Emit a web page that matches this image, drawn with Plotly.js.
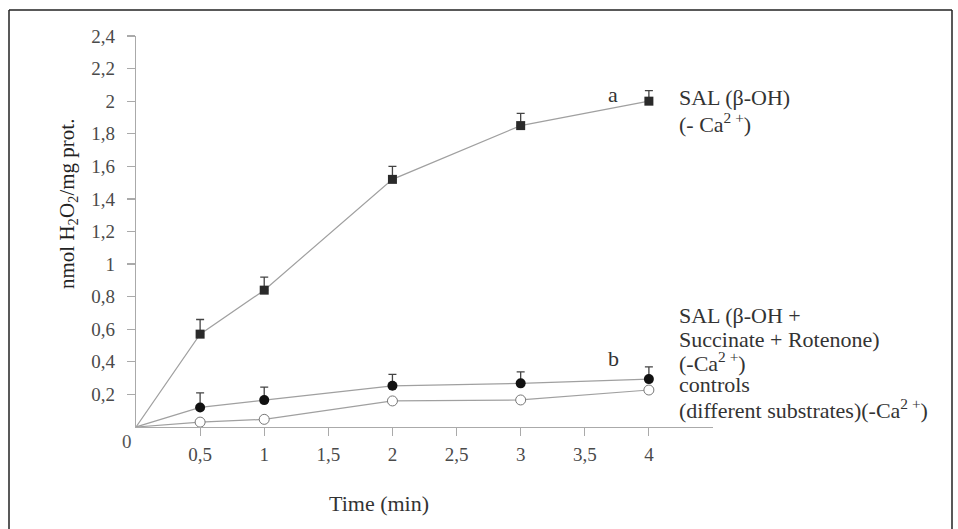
<!DOCTYPE html>
<html><head><meta charset="utf-8">
<script src="https://cdn.plot.ly/plotly-3.0.1.min.js"></script>
<style>html,body{margin:0;padding:0;background:#fff}#chart{width:958px;height:529px}</style>
</head><body><div id="chart"></div>
<script>
// Data (time in min, nmol H2O2 / mg prot.)
const time = [0, 0.5, 1, 2, 3, 4];
const salBetaOH = [0, 0.57, 0.84, 1.52, 1.85, 2.0];
const salBetaOHErr = [0, 0.09, 0.08, 0.08, 0.075, 0.065];
const salSuccRot = [0, 0.12, 0.165, 0.253, 0.268, 0.294];
const salSuccRotErr = [0, 0.09, 0.08, 0.07, 0.07, 0.075];
const controls = [0, 0.03, 0.047, 0.16, 0.166, 0.227];
const xTickVals = [0.5, 1, 1.5, 2, 2.5, 3, 3.5, 4];
const xTickText = ['0,5', '1', '1,5', '2', '2,5', '3', '3,5', '4'];
const yTickVals = [0.2, 0.4, 0.6, 0.8, 1, 1.2, 1.4, 1.6, 1.8, 2, 2.2, 2.4];
const yTickText = ['0,2', '0,4', '0,6', '0,8', '1', '1,2', '1,4', '1,6', '1,8', '2', '2,2', '2,4'];

const FONT = 'Liberation Serif';
const lineCol = '#a0a0a0';
const zeros = time.slice(1).map(() => 0);

function lineTrace(y) {
  return {x: time, y: y, mode: 'lines', line: {color: lineCol, width: 1.2}, hoverinfo: 'skip', showlegend: false, cliponaxis: false};
}
function markTrace(y, err, marker) {
  const t = {x: time.slice(1), y: y.slice(1), mode: 'markers', marker: marker, showlegend: false, cliponaxis: false};
  if (err) {
    t.error_y = {type: 'data', symmetric: false, array: err.slice(1), arrayminus: zeros, color: '#444', thickness: 1.3, width: 4};
  }
  return t;
}

const data = [
  lineTrace(salBetaOH), lineTrace(salSuccRot), lineTrace(controls),
  markTrace(controls, null, {symbol: 'circle', size: 10, color: '#fff', line: {color: '#777', width: 1}}),
  markTrace(salSuccRot, salSuccRotErr, {symbol: 'circle', size: 10, color: '#111', line: {color: '#111', width: 0}}),
  markTrace(salBetaOH, salBetaOHErr, {symbol: 'square', size: 9, color: '#2a2a2a', line: {color: '#2a2a2a', width: 0}})
];

// label placement helpers: layout pixels -> paper fractions
function fx(p) { return (p - 136) / 577; }
function fy(p) { return (427 - p) / 391; }
function ann(text, x, y, opts) {
  opts = opts || {};
  return {text: text, x: fx(x), y: fy(y), xref: 'paper', yref: 'paper', xanchor: opts.anchor || 'left', yanchor: 'middle',
          showarrow: false, textangle: opts.angle || 0,
          font: {family: FONT, size: opts.size || 22, color: opts.color || '#333'}};
}

const annotations = [
  ann('SAL (β-OH)', 677, 97),
  ann('(- Ca<sup>2 +</sup>)', 677, 123),
  ann('SAL (β-OH +', 677, 315),
  ann('Succinate + Rotenone)', 677, 339),
  ann('(-Ca<sup>2 +</sup>)', 677, 362),
  ann('controls', 677, 384),
  ann('(different substrates)(-Ca<sup>2 +</sup>)', 677, 409),
  ann('a', 613, 94, {anchor: 'center'}),
  ann('b', 613, 358, {anchor: 'center'}),
  ann('0', 127, 441, {anchor: 'center', size: 19, color: '#555'}),
  ann('Time (min)', 379, 503, {anchor: 'center', size: 22, color: '#333'}),
  ann('nmol H<sub>2</sub>O<sub>2</sub>/mg prot.', 68, 204, {anchor: 'center', size: 21, color: '#222', angle: -90})
];

const frameCol = '#222';
const L = fx(9), R = fx(952), T = fy(10), B = fy(535);
const shapes = [
  {type: 'line', xref: 'paper', yref: 'paper', x0: L, x1: L, y0: T, y1: B, line: {color: frameCol, width: 1.5}},
  {type: 'line', xref: 'paper', yref: 'paper', x0: L, x1: R, y0: T, y1: T, line: {color: frameCol, width: 1.5}},
  {type: 'line', xref: 'paper', yref: 'paper', x0: R, x1: R, y0: T, y1: B, line: {color: frameCol, width: 1.5}}
];

const layout = {
  width: 958, height: 529,
  margin: {l: 136, r: 245, t: 36, b: 102, pad: 0},
  paper_bgcolor: '#fff', plot_bgcolor: '#fff',
  showlegend: false,
  font: {family: FONT, size: 19, color: '#555'},
  xaxis: {range: [0, 4.5], showgrid: false, zeroline: false, showline: true, linecolor: '#aaa', linewidth: 1.2,
          ticks: 'outside', ticklen: 8, tickcolor: '#aaa', tickwidth: 1.2,
          tickvals: xTickVals, ticktext: xTickText, ticklabelstandoff: 2,
          tickfont: {family: FONT, size: 19, color: '#4a4a4a'}, fixedrange: true},
  yaxis: {range: [0, 2.4], showgrid: false, zeroline: false, showline: true, linecolor: '#aaa', linewidth: 1.2,
          ticks: 'outside', ticklen: 8, tickcolor: '#aaa', tickwidth: 1.2,
          tickvals: yTickVals, ticktext: yTickText, ticklabelstandoff: 8,
          tickfont: {family: FONT, size: 19, color: '#4a4a4a'}, fixedrange: true},
  annotations: annotations,
  shapes: shapes
};

Plotly.newPlot('chart', data, layout, {displayModeBar: false, staticPlot: true});
</script>
</body></html>
